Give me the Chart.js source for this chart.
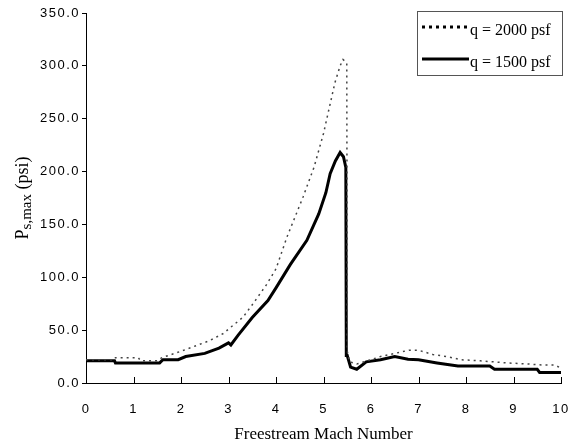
<!DOCTYPE html>
<html>
<head>
<meta charset="utf-8">
<script src="https://cdn.jsdelivr.net/npm/chart.js@4/dist/chart.umd.min.js"></script>
<style>
  html, body { margin: 0; padding: 0; background: #fff; }
  #wrap { width: 573px; height: 447px; }
</style>
</head>
<body>
<div id="wrap"><canvas id="grafica"></canvas></div>
<script>
// q = 2000 psf (dotted)
const machAlto = [0, 0.6, 0.62, 1.1, 1.15, 1.5, 1.6, 1.8, 2.0, 2.3, 2.6, 2.9, 3.0, 3.3, 3.5, 3.8, 4.0, 4.23, 4.57, 4.8, 5.0, 5.24, 5.35, 5.41, 5.49, 5.5, 5.55, 5.7, 6.0, 6.2, 6.5, 6.8, 7.0, 7.3, 7.6, 7.9, 8.3, 8.86, 9.3, 9.6, 9.87, 10.0];
const presionAlto = [22, 22, 24, 24, 21, 21, 24, 27, 30, 35, 40, 47, 51, 62, 74, 93, 108, 138, 176, 204, 236, 284, 300, 306, 303, 30, 20, 18, 22, 25, 28, 31, 31, 27, 25, 22, 21, 19, 18, 17, 17, 14];

// q = 1500 psf (solid)
const machBajo = [0, 0.6, 0.62, 1.55, 1.62, 1.94, 2.1, 2.5, 2.8, 3.0, 3.05, 3.2, 3.5, 3.83, 4.0, 4.3, 4.65, 4.9, 5.05, 5.14, 5.25, 5.35, 5.42, 5.47, 5.48, 5.5, 5.57, 5.7, 5.9, 6.2, 6.5, 6.78, 7.0, 7.39, 7.83, 8.5, 8.6, 9.5, 9.55, 10.0, 10.05];
const presionBajo = [21, 21, 19, 19, 22, 22, 25, 28, 33, 38, 36, 45, 62, 78, 90, 112, 135, 160, 180, 198, 210, 218, 214, 204, 26, 26, 15, 13, 20, 22, 25, 22.5, 22, 19, 16, 16, 13, 13, 10, 10, 8];

const nombres = ["q = 2000 psf", "q = 1500 psf"];
const ticksX = [0, 1, 2, 3, 4, 5, 6, 7, 8, 9, 10];
const tituloX = "Freestream Mach Number";
const tituloY = ["P", "s,max", " (psi)"];

const serif = "'Liberation Serif', 'Times New Roman', serif";

function puntos(xs, ys) {
    return xs.map(function (x, i) { return { x: x, y: ys[i] }; });
}

// espaciado de las etiquetas de los ejes
const espaciado = {
    id: "espaciado",
    beforeLayout(chart) { chart.ctx.letterSpacing = "1.5px"; },
    beforeDraw(chart) { chart.ctx.letterSpacing = "1.5px"; },
};

// ticks del eje x hacia adentro, titulos y leyenda con marco
const extras = {
    id: "extras",
    afterDraw(chart) {
        const c = chart.ctx;
        const sx = chart.scales.x;
        const sy = chart.scales.y;
        c.save();
        c.letterSpacing = "0px";
        c.strokeStyle = "#000";
        c.lineWidth = 1;
        ticksX.forEach(function (t) {
            const px = Math.round(sx.getPixelForValue(t)) + 0.5;
            c.beginPath();
            c.moveTo(px, sy.bottom);
            c.lineTo(px, sy.bottom - 6);
            c.stroke();
        });

        // titulo x
        c.fillStyle = "#000";
        c.textAlign = "center";
        c.textBaseline = "middle";
        c.font = "17px " + serif;
        c.fillText(tituloX, (sx.left + sx.right) / 2, 435);

        // titulo y con subindice
        c.save();
        c.translate(22, (sy.top + sy.bottom) / 2);
        c.rotate(-Math.PI / 2);
        c.textAlign = "left";
        c.textBaseline = "alphabetic";
        c.font = "18px " + serif;
        const w0 = c.measureText(tituloY[0]).width;
        c.font = "15px " + serif;
        const w1 = c.measureText(tituloY[1]).width;
        c.font = "18px " + serif;
        const w2 = c.measureText(tituloY[2]).width;
        let xx = -(w0 + w1 + w2) / 2;
        c.fillText(tituloY[0], xx, 6);
        xx += w0;
        c.font = "15px " + serif;
        c.fillText(tituloY[1], xx, 9);
        xx += w1;
        c.font = "18px " + serif;
        c.fillText(tituloY[2], xx, 6);
        c.restore();

        // leyenda
        c.strokeStyle = "#555";
        c.lineWidth = 1;
        c.strokeRect(417.5, 11.5, 145, 64);
        const filas = [27, 59];
        chart.data.datasets.forEach(function (ds, i) {
            c.beginPath();
            c.strokeStyle = "#000";
            c.lineWidth = 3;
            c.setLineDash(i === 0 ? [3, 4] : []);
            c.moveTo(422, filas[i]);
            c.lineTo(469, filas[i]);
            c.stroke();
            c.setLineDash([]);
            c.fillStyle = "#000";
            c.textAlign = "left";
            c.font = "16px " + serif;
            c.textBaseline = "middle";
            c.fillText(ds.label, 470, filas[i] + 4);
        });
        c.restore();
    }
};

const ctx = document.getElementById("grafica");

const myChart = new Chart(ctx, {
    type: "line",
    data: {
        datasets: [
            {
                label: nombres[0],
                data: puntos(machAlto, presionAlto),
                borderColor: "#444",
                borderWidth: 1.5,
                borderDash: [2, 4],
                pointRadius: 0,
                tension: 0,
                fill: false,
                clip: false,
            },
            {
                label: nombres[1],
                data: puntos(machBajo, presionBajo),
                borderColor: "#000",
                borderWidth: 3,
                pointRadius: 0,
                tension: 0,
                fill: false,
                clip: false,
            },
        ],
    },
    options: {
        responsive: true,
        maintainAspectRatio: false,
        animation: false,
        layout: { padding: { top: 13, right: 12, left: 0, bottom: 0 } },
        plugins: {
            legend: { display: false },
            tooltip: { enabled: false },
        },
        scales: {
            x: {
                type: "linear",
                min: 0,
                max: 10,
                afterBuildTicks: function (scale) {
                    scale.ticks = ticksX.map(function (v) { return { value: v }; });
                },
                grid: { display: false, drawTicks: false },
                border: { display: true, color: "#000", width: 1 },
                ticks: {
                    color: "#000",
                    padding: 19,
                    maxRotation: 0,
                    font: { family: "'Liberation Sans', Arial, sans-serif", size: 13 },
                    callback: function (v) { return v; },
                },
                title: { display: false },
                afterFit: function (scale) {
                    scale.height = 64;
                    scale.paddingRight = 0;
                    scale.paddingLeft = 0;
                },
            },
            y: {
                min: 0,
                max: 350,
                ticks: {
                    stepSize: 50,
                    color: "#000",
                    padding: 2,
                    font: { family: "'Liberation Sans', Arial, sans-serif", size: 13 },
                    callback: function (v) { return v.toFixed(1); },
                },
                grid: { display: true, drawOnChartArea: false, tickLength: 4, color: "#000" },
                border: { display: true, color: "#000", width: 1 },
                title: { display: false },
                afterFit: function (scale) {
                    scale.width = 86;
                    scale.paddingTop = 0;
                    scale.paddingBottom = 0;
                },
            },
        },
    },
    plugins: [espaciado, extras],
});
</script>
</body>
</html>
